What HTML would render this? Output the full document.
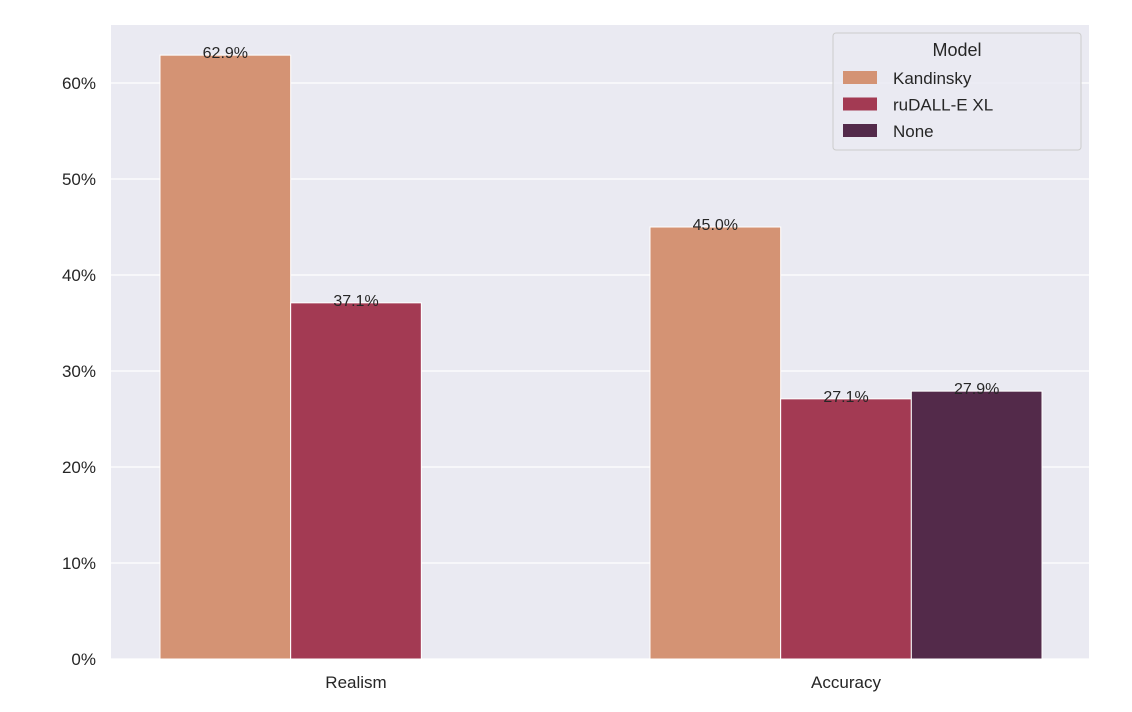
<!DOCTYPE html>
<html><head><meta charset="utf-8"><style>
body{margin:0;background:#fff;}
svg{display:block;font-family:"Liberation Sans",Arial,sans-serif;}
</style></head><body>
<svg id="chart" width="1132" height="712"></svg>
<script>
const categories = ["Realism", "Accuracy"];
const models = ["Kandinsky", "ruDALL-E XL", "None"];
const kandinsky = [62.9, 45.0];
const rudalle = [37.1, 27.1];
const none = [null, 27.9];
const yTicks = [0, 10, 20, 30, 40, 50, 60];
const colors = ["#d49374", "#a33a53", "#532a4a"];

const NS = "http://www.w3.org/2000/svg";
const svg = document.getElementById("chart");
const L = 111, R = 1089, T = 25, B = 659;
const y = v => B - v * 9.6;
const unit = 490, c0 = 356;
const xCenter = i => c0 + i * unit;
const bw = unit * 0.8 / 3;
function mk(tag, attrs, parent) {
  const e = document.createElementNS(NS, tag);
  for (const k in attrs) e.setAttribute(k, attrs[k]);
  (parent || svg).appendChild(e);
  return e;
}
const bg = mk("rect", {x: L, y: T, width: R - L, height: B - T, fill: "#eaeaf2"});


yTicks.forEach(t => {
  const g = mk("line", {x1: L, x2: R, y1: y(t), y2: y(t), stroke: "#fff", "stroke-width": 1.2});
  
  
  const tx = mk("text", {x: 96, y: y(t) + 6, "text-anchor": "end", "font-size": 17, fill: "#262626"});
  tx.textContent = t + "%";
  
  
});
categories.forEach((c, i) => {
  const tx = mk("text", {x: xCenter(i), y: 688, "text-anchor": "middle", "font-size": 17, fill: "#262626"});
  tx.textContent = c;
  
  
});
const series = [kandinsky, rudalle, none];
series.forEach((s, j) => {
  s.forEach((v, i) => {
    if (v === null) return;
    const x0 = xCenter(i) - 1.5 * bw + j * bw;
    const r = mk("rect", {x: x0, y: y(v), width: bw, height: B - y(v), fill: colors[j], stroke: "#fff", "stroke-width": 1});
    
    
    const lb = mk("text", {x: x0 + bw / 2, y: y(v) + 3, "text-anchor": "middle", "font-size": 16, fill: "#262626"});
    lb.textContent = v.toFixed(1) + "%";
    
    
  });
});
const lg = mk("g", {});


mk("rect", {x: 833, y: 33, width: 248, height: 117, rx: 3, fill: "#eaeaf2", "fill-opacity": 0.85, stroke: "#ccc"}, lg);
const lt = mk("text", {x: 957, y: 56, "text-anchor": "middle", "font-size": 18, fill: "#262626"}, lg);
lt.textContent = "Model";


models.forEach((m, j) => {
  const yy = 78 + j * 26.5;
  const p = mk("rect", {x: 843, y: yy - 7, width: 34, height: 13, fill: colors[j]}, lg);
  
  
  const t = mk("text", {x: 893, y: yy + 6, "font-size": 17, fill: "#262626"}, lg);
  t.textContent = m;
  
  
});
</script>
</body></html>
